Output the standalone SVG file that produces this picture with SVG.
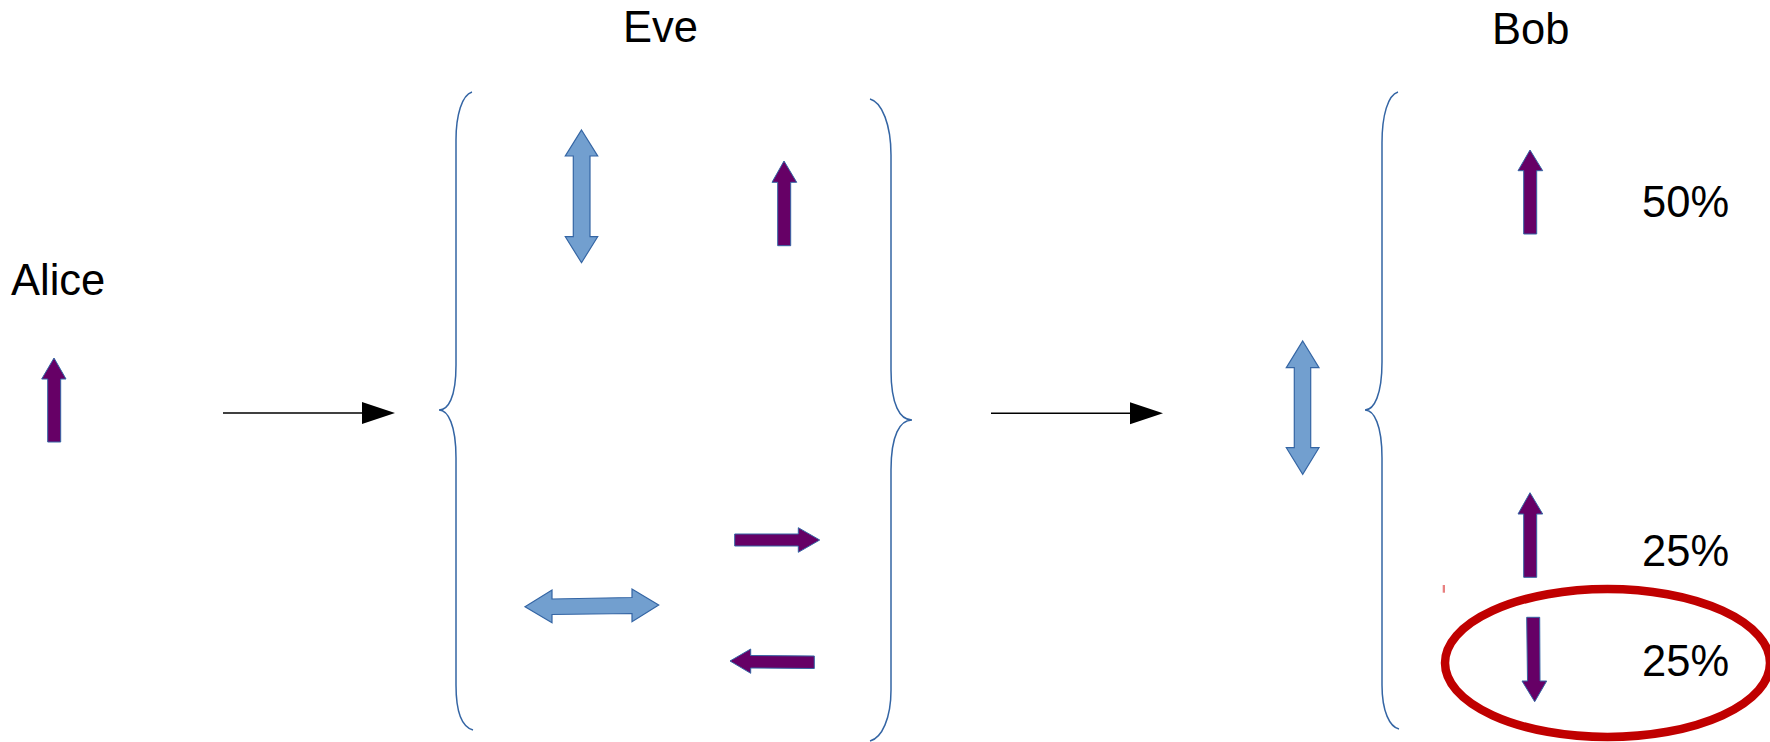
<svg xmlns="http://www.w3.org/2000/svg" width="1770" height="742" viewBox="0 0 1770 742">
<style>
text{font-family:"Liberation Sans",Arial,sans-serif;font-size:43.5px;fill:#000}
.brace{fill:none;stroke:#3465A4;stroke-width:1.5}
.blue{fill:#729FCF;stroke:#3465A4;stroke-width:1.2}
.purple{fill:#660066;stroke:#3465A4;stroke-width:1}
.conn{stroke:#000;stroke-width:1.5;fill:none}
</style>
<defs>
<marker id="ah" markerUnits="userSpaceOnUse" markerWidth="34" markerHeight="24" refX="0" refY="11" orient="auto">
<path d="M0,0 L33,11 L0,22 z" fill="#000"/>
</marker>
</defs>
<rect width="1770" height="742" fill="#fff"/>
<g id="alice">
<text x="11" y="295">Alice</text>
<polygon class="purple" points="54,358 66,379 60.7,379 60.7,442 47.7,442 47.7,379 41.7,379"/>
</g>
<g id="eve">
<text x="623" y="42">Eve</text>
<path class="brace" d="M472,92 C462,95 456,115 456,140 L456,365 C456,398 448,410 439,410 C448,410 456,425 456,458 L456,685 C456,712 462,727 473,730"/>
<path class="brace" d="M870,99 C882,102 891,125 891,155 L891,370 C891,405 900,420 912,420 C900,420 891,435 891,470 L891,690 C891,718 882,738 870,741"/>
<polygon class="blue" points="581.5,130 597.7,156 590,156 590,236.7 597.7,236.7 581.5,262.7 565.3,236.7 573.3,236.7 573.3,156 565.3,156"/>
<polygon class="purple" points="784,161 796.7,182.3 790.7,182.3 790.7,245.7 777.7,245.7 777.7,182.3 772,182.3"/>
<polygon class="blue" points="525,606.7 552,590 552,599 632,597.5 632,589 658.7,605 632,621.7 632,613.5 552,614.5 552,622.7"/>
<polygon class="purple" points="734.7,534 798.3,534 798.3,527.7 819.7,540 798.3,552.3 798.3,546 734.7,546"/>
<polygon class="purple" points="730,661 750.7,649 750.7,655.5 814.3,656 814.3,668.5 750.7,668 750.7,673.3"/>
</g>
<g id="bob">
<text x="1492" y="44">Bob</text>
<polygon class="blue" points="1302.7,341 1319,367.7 1310.7,367.7 1310.7,447.7 1319,447.7 1302.7,474.3 1286.3,447.7 1294.3,447.7 1294.3,367.7 1286.3,367.7"/>
<path class="brace" d="M1398,92 C1388,95 1382,115 1382,143 L1382,362 C1382,395 1374,410 1365,410 C1374,410 1382,425 1382,458 L1382,685 C1382,712 1390,727 1399,729"/>
<polygon class="purple" points="1530,150 1542.7,170.7 1536.7,170.7 1536.7,234 1523.7,234 1523.7,170.7 1518,170.7"/>
<text x="1642" y="217">50%</text>
<polygon class="purple" points="1530,492.7 1542.7,514 1536.7,514 1536.7,577.3 1523.7,577.3 1523.7,514 1518,514"/>
<text x="1642" y="566">25%</text>
<polygon class="purple" points="1526.7,617.3 1539.7,617.3 1540,681 1546.7,681 1534.7,701.7 1522,681 1527.5,681"/>
<text x="1642" y="676">25%</text>
<rect x="1442.7" y="585" width="2.3" height="7.7" fill="#E88080"/>
<ellipse cx="1607.5" cy="663" rx="162.5" ry="74" fill="none" stroke="#C00000" stroke-width="8.5"/>
</g>
<g id="connectors">
<line class="conn" x1="223" y1="413" x2="362" y2="413" marker-end="url(#ah)"/>
<line class="conn" x1="991" y1="413.3" x2="1130" y2="413.3" marker-end="url(#ah)"/>
</g>
</svg>
